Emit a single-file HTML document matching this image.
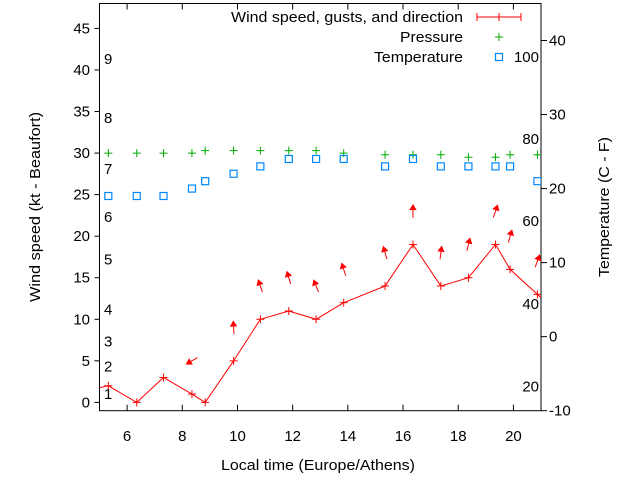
<!DOCTYPE html>
<html><head><meta charset="utf-8"><style>
html,body{margin:0;padding:0;background:#fff;}
svg{display:block;font-family:"Liberation Sans",sans-serif;}
</style></head><body>
<svg id="chart" width="640" height="480" viewBox="0 0 640 480" xmlns="http://www.w3.org/2000/svg"></svg>
<script>
const hours = [5.32,6.35,7.32,8.35,8.83,9.86,10.83,11.86,12.85,13.85,15.35,16.36,17.37,18.37,19.35,19.88,20.87];
const windSpeed = [2,0,3,1,0,5,10,11,10,12,14,19,14,15,19,16,13];
const pressure = [1015,1015,1015,1015,1015.3,1015.3,1015.3,1015.3,1015.3,1015,1014.8,1014.8,1014.8,1014.5,1014.5,1014.8,1014.8];
const temperature = [19,19,19,20,21,22,23,24,24,24,23,24,23,23,23,23,21];
const gustHours = [8.35,9.86,10.83,11.86,12.85,13.85,15.35,16.36,17.37,18.37,19.35,19.88,20.87];
const gustSpeed = [5,9,14,15,14,16,18,23,18,19,23,20,17];
const gustDir = [240,357,341,343,338,342,344,0,7,14,19,16,20];
const xTicks = [6,8,10,12,14,16,18,20];
const yTicks = [0,5,10,15,20,25,30,35,40,45];
const tTicks = [-10,0,10,20,30,40];
const beaufortLabels = ["1","2","3","4","5","6","7","8","9"];
const beaufortY = [1.0,4.3,7.3,11.2,17.2,22.3,28.1,34.2,41.3];
const fahrLabels = ["20","40","60","80","100"];
const fahrTemp = [-6.7,4.4,15.6,26.7,37.8];

const L=99.5,R=541,T=3.5,B=410.7;
const xS=h=>L+(h-5)/(21-5)*(R-L);
const yS=v=>B-(v+1)/(48+1)*(B-T);
const tS=v=>B-(v+10)/(45+10)*(B-T);
const pS=p=>yS(30+(p-1015));
const svg=document.getElementById('chart');
const NS='http://www.w3.org/2000/svg';
function mk(tag,attrs,parent){const e=document.createElementNS(NS,tag);for(const k in attrs)e.setAttribute(k,attrs[k]);(parent||svg).appendChild(e);return e;}
function txt(x,y,s,anchor,parent,len){const a={x:x,y:y,'font-size':15,fill:'#000','text-anchor':anchor||'middle'};if(len){a.textLength=len;a.lengthAdjust='spacingAndGlyphs';}const t=mk('text',a,parent);t.textContent=s;return t;}

const defs=mk('defs',{});
const cp=mk('clipPath',{id:'clip'},defs);
mk('rect',{x:L,y:T,width:R-L,height:B-T},cp);

const frame=mk('rect',{x:L,y:T,width:R-L,height:B-T,fill:'none',stroke:'#000','stroke-width':1});



xTicks.forEach(v=>{
  const x=xS(v);
  const t1=mk('line',{x1:x,y1:B,x2:x,y2:B-6,stroke:'#000'});
  
  
  mk('line',{x1:x,y1:T,x2:x,y2:T+6,stroke:'#000'});
  const l=txt(x,441,String(v));
  
  
});
yTicks.forEach(v=>{
  const y=yS(v);
  const t1=mk('line',{x1:L-5,y1:y,x2:L,y2:y,stroke:'#000'});
  
  
  const l=txt(90,y+5,String(v),'end');
  
  
});
tTicks.forEach(v=>{
  const y=tS(v);
  const t1=mk('line',{x1:R,y1:y,x2:R+6,y2:y,stroke:'#000'});
  
  
  const l=txt(549,y+5,String(v),'start');
  
  
});
beaufortLabels.forEach((s,i)=>{
  const l=txt(104,yS(beaufortY[i])+5,s,'start');
  
  
});
fahrLabels.forEach((s,i)=>{
  const l=txt(539,tS(fahrTemp[i])+5,s,'end');
  
  
});

const g=mk('g',{'clip-path':'url(#clip)'});
const pts=hours.map((h,i)=>xS(h)+','+yS(windSpeed[i]));
const n=hours.length;
pts.unshift(xS(4.3)+','+yS(windSpeed[0]-0.7));
pts.push(xS(hours[n-1]+1)+','+yS(windSpeed[n-1]-3));
const wl=mk('polyline',{points:pts.join(' '),fill:'none',stroke:'#f00','stroke-width':1},g);


function plus(x,y,c,name){
  const p=mk('path',{d:`M${x-4},${y}H${x+4}M${x},${y-4}V${y+4}`,stroke:c,'stroke-width':1,fill:'none'},g);
  
  
}
hours.forEach((h,i)=>plus(xS(h),yS(windSpeed[i]),'#f00','wind-point'));
hours.forEach((h,i)=>plus(xS(h),pS(pressure[i]),'#0a0','pressure-point'));
hours.forEach((h,i)=>{
  const r=mk('rect',{x:xS(h)-3.5,y:tS(temperature[i])-3.5,width:7,height:7,fill:'none',stroke:'#08f','stroke-width':1.2},g);
  
  
});
gustHours.forEach((h,i)=>{
  const cx=xS(h),cy=yS(gustSpeed[i]);
  const a=gustDir[i]*Math.PI/180;
  const dx=Math.sin(a),dy=-Math.cos(a),len=13;
  const tx=cx-dx*len/2,ty=cy-dy*len/2,hx=cx+dx*len/2,hy=cy+dy*len/2;
  const ag=mk('g',{},g);
  
  
  mk('line',{x1:tx,y1:ty,x2:hx,y2:hy,stroke:'#f00','stroke-width':1},ag);
  const px=-dy,py=dx;
  mk('polygon',{points:`${hx},${hy} ${hx-dx*5+px*3},${hy-dy*5+py*3} ${hx-dx*5-px*3},${hy-dy*5-py*3}`,fill:'#f00',stroke:'#f00','stroke-width':0.8},ag);
});

const lg=mk('g',{});


txt(463,22,'Wind speed, gusts, and direction','end',lg,232);
mk('path',{d:'M477,17H521M477,13V21M521,13V21M499,13V21',stroke:'#f00',fill:'none'},lg);
txt(463,42,'Pressure','end',lg,63);
mk('path',{d:'M495,37H503M499,33V41',stroke:'#0a0',fill:'none'},lg);
txt(463,62,'Temperature','end',lg,89);
mk('rect',{x:495.5,y:53.5,width:7,height:7,fill:'none',stroke:'#08f','stroke-width':1.2},lg);

const xt=txt(318,470,'Local time (Europe/Athens)','middle',null,194);


const yt=txt(0,0,'Wind speed (kt - Beaufort)','middle',null,190);
yt.setAttribute('transform','translate(40,207) rotate(-90)');


const tt=txt(0,0,'Temperature (C - F)','middle',null,140);
tt.setAttribute('transform','translate(609,207) rotate(-90)');


</script>
</body></html>
